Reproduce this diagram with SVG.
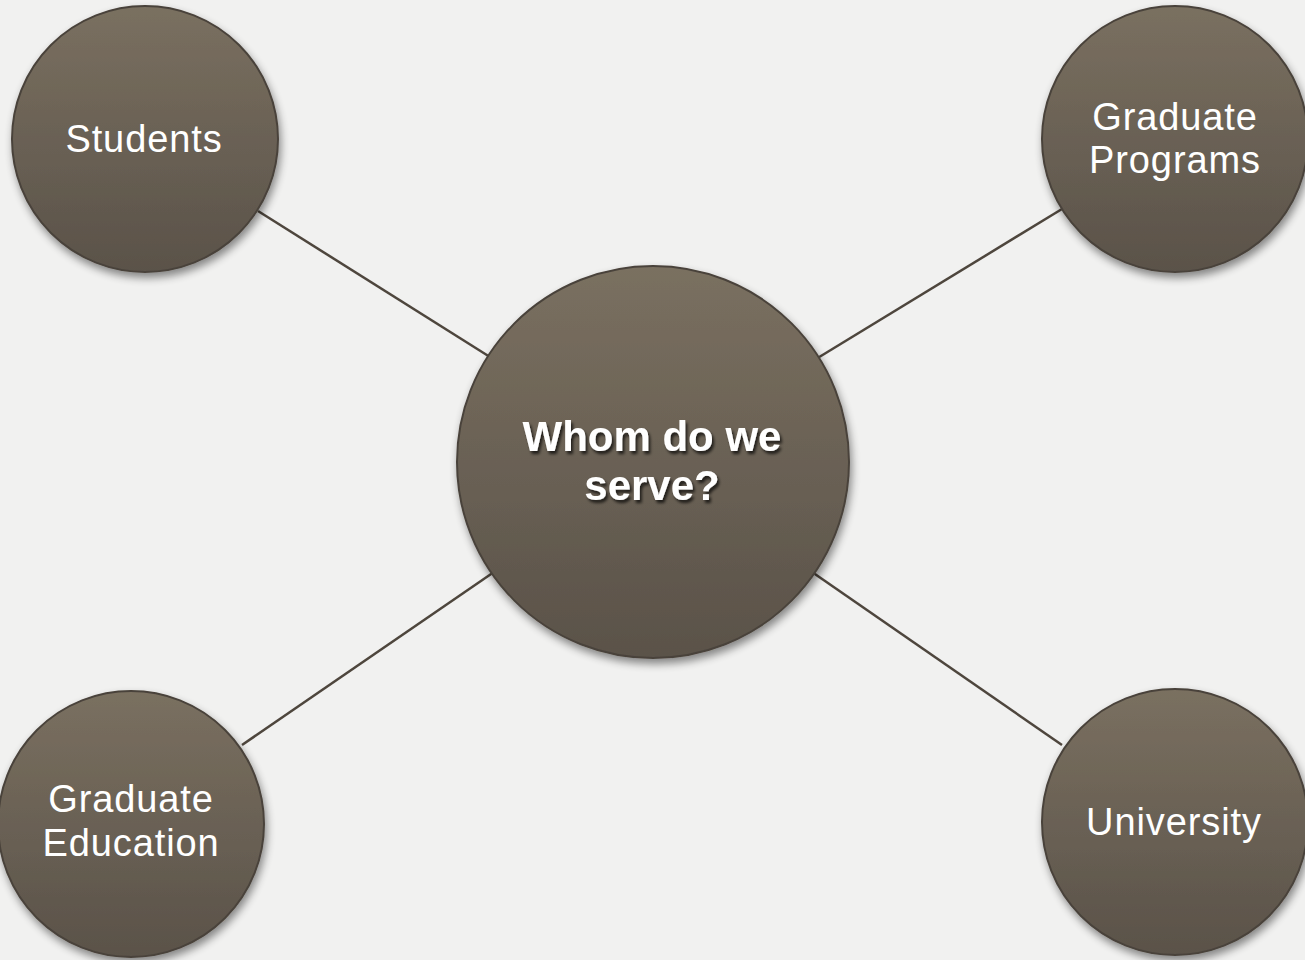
<svg xmlns="http://www.w3.org/2000/svg" width="1305" height="960" viewBox="0 0 1305 960">
<defs>
<linearGradient id="g" x1="0" y1="0" x2="0" y2="1">
<stop offset="0" stop-color="#7a7060"/>
<stop offset="1" stop-color="#5a5249"/>
</linearGradient>
<filter id="sh" x="-20%" y="-20%" width="140%" height="140%">
<feGaussianBlur in="SourceAlpha" stdDeviation="4"/>
<feOffset dx="2" dy="5"/>
<feComponentTransfer><feFuncA type="linear" slope="0.45"/></feComponentTransfer>
<feMerge><feMergeNode/><feMergeNode in="SourceGraphic"/></feMerge>
</filter>
<filter id="ts" x="-10%" y="-10%" width="120%" height="130%">
<feGaussianBlur in="SourceAlpha" stdDeviation="1.5"/>
<feOffset dx="2" dy="3"/>
<feComponentTransfer><feFuncA type="linear" slope="0.7"/></feComponentTransfer>
<feMerge><feMergeNode/><feMergeNode in="SourceGraphic"/></feMerge>
</filter>
</defs>
<style>
.node{fill:url(#g);stroke:#4a433b;stroke-width:2;filter:url(#sh)}
.lbl{font-family:"Liberation Sans",Arial,sans-serif;font-size:38px;letter-spacing:0.9px;fill:#ffffff;text-anchor:middle}
.ctr{font-family:"Liberation Sans",Arial,sans-serif;font-size:42px;font-weight:bold;fill:#ffffff;text-anchor:middle;filter:url(#ts)}
.conn{stroke:#4e463d;stroke-width:2.5;fill:none}
</style>
<rect width="1305" height="960" fill="#f1f1f0"/>
<g id="connectors">
<line class="conn" x1="258" y1="211" x2="490" y2="357"/>
<line class="conn" x1="1062" y1="209" x2="816" y2="359"/>
<line class="conn" x1="242" y1="745" x2="494" y2="572"/>
<line class="conn" x1="1062" y1="745" x2="812" y2="572"/>
</g>
<g id="center">
<circle class="node" cx="653" cy="462" r="196"/>
<text class="ctr" x="652" y="451">Whom do we</text>
<text class="ctr" x="652" y="500">serve?</text>
</g>
<g id="students">
<circle class="node" cx="145" cy="139" r="133"/>
<text class="lbl" x="144" y="152">Students</text>
</g>
<g id="graduate-programs">
<circle class="node" cx="1175" cy="139" r="133"/>
<text class="lbl" x="1175" y="130">Graduate</text>
<text class="lbl" x="1175" y="173">Programs</text>
</g>
<g id="graduate-education">
<circle class="node" cx="131" cy="824" r="133"/>
<text class="lbl" x="131" y="812">Graduate</text>
<text class="lbl" x="131" y="856">Education</text>
</g>
<g id="university">
<circle class="node" cx="1175" cy="822" r="133"/>
<text class="lbl" x="1174" y="835">University</text>
</g>
</svg>
